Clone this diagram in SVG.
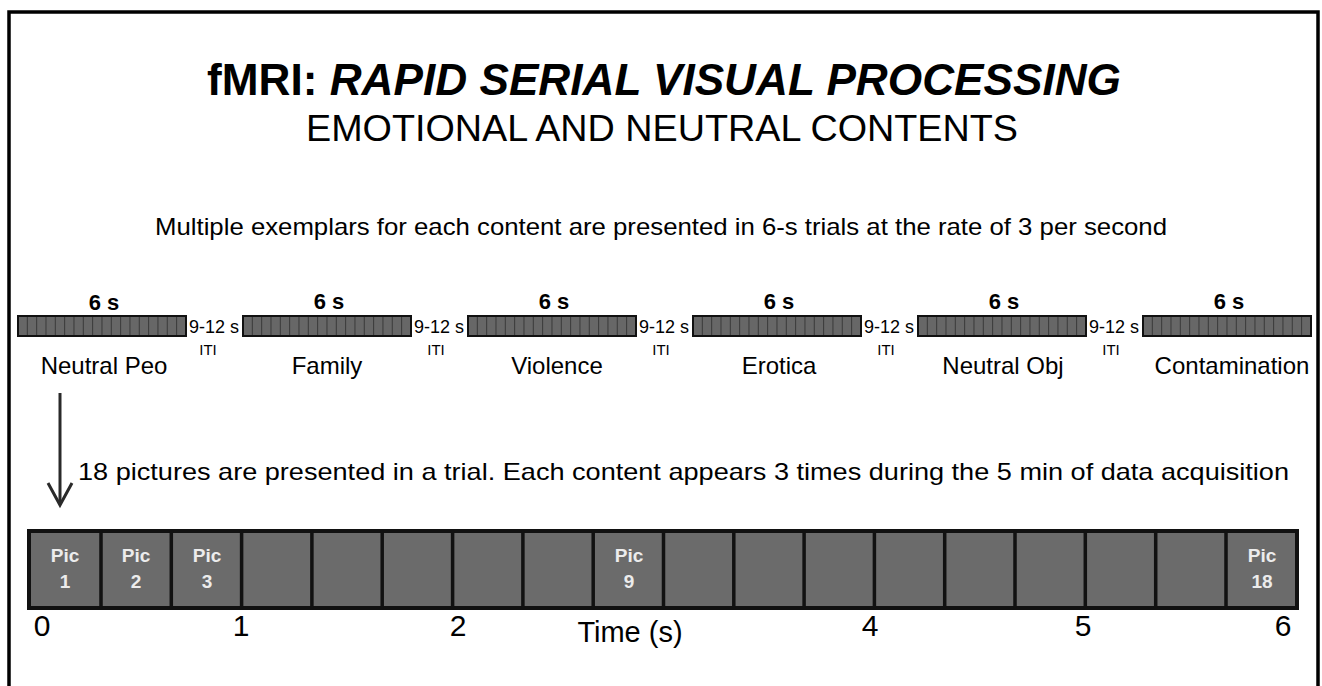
<svg xmlns="http://www.w3.org/2000/svg" width="1322" height="686" viewBox="0 0 1322 686">
<style>
text{font-family:"Liberation Sans",Arial,sans-serif;fill:#000}
.t6{font-size:22px;font-weight:bold;text-anchor:middle}
.iti1{font-size:18px}
.iti2{font-size:15px;text-anchor:middle}
.cat{font-size:24px;text-anchor:middle}
.bar{fill:#676767;stroke:#111;stroke-width:2}
.div{stroke:#3a3a3a;stroke-width:1;fill:none}
.pic{font-size:19px;font-weight:bold;fill:#ececec;text-anchor:middle}
.ax{font-size:30px;text-anchor:middle}
</style>
<rect x="9" y="12" width="1309" height="700" fill="#fff" stroke="#000" stroke-width="3.5"/>
<g id="title">
<text x="664" y="95" font-size="44" font-weight="bold" text-anchor="middle" textLength="914" lengthAdjust="spacingAndGlyphs">fMRI: <tspan font-style="italic">RAPID SERIAL VISUAL PROCESSING</tspan></text>
<text x="662" y="141" font-size="36" text-anchor="middle" textLength="712" lengthAdjust="spacingAndGlyphs">EMOTIONAL AND NEUTRAL CONTENTS</text>
<text x="661" y="235" font-size="24" text-anchor="middle" textLength="1012" lengthAdjust="spacingAndGlyphs">Multiple exemplars for each content are presented in 6-s trials at the rate of 3 per second</text>
</g>
<g id="trial1">
<rect class="bar" x="18" y="316" width="168" height="20"/>
<path class="div" d="M27.33,317v18m9.33,-18v18m9.33,-18v18m9.33,-18v18m9.33,-18v18m9.33,-18v18m9.33,-18v18m9.33,-18v18m9.33,-18v18m9.33,-18v18m9.33,-18v18m9.33,-18v18m9.33,-18v18m9.33,-18v18m9.33,-18v18m9.33,-18v18m9.33,-18v18"/>
<text class="t6" x="104" y="310">6 s</text>
<text class="cat" x="104" y="374">Neutral Peo</text>
</g>
<g id="trial2">
<rect class="bar" x="243" y="316" width="168" height="20"/>
<path class="div" d="M252.33,317v18m9.33,-18v18m9.33,-18v18m9.33,-18v18m9.33,-18v18m9.33,-18v18m9.33,-18v18m9.33,-18v18m9.33,-18v18m9.33,-18v18m9.33,-18v18m9.33,-18v18m9.33,-18v18m9.33,-18v18m9.33,-18v18m9.33,-18v18m9.33,-18v18"/>
<text class="t6" x="329" y="309">6 s</text>
<text class="cat" x="327" y="374">Family</text>
</g>
<g id="trial3">
<rect class="bar" x="468" y="316" width="168" height="20"/>
<path class="div" d="M477.33,317v18m9.33,-18v18m9.33,-18v18m9.33,-18v18m9.33,-18v18m9.33,-18v18m9.33,-18v18m9.33,-18v18m9.33,-18v18m9.33,-18v18m9.33,-18v18m9.33,-18v18m9.33,-18v18m9.33,-18v18m9.33,-18v18m9.33,-18v18m9.33,-18v18"/>
<text class="t6" x="554" y="309">6 s</text>
<text class="cat" x="557" y="374">Violence</text>
</g>
<g id="trial4">
<rect class="bar" x="693" y="316" width="168" height="20"/>
<path class="div" d="M702.33,317v18m9.33,-18v18m9.33,-18v18m9.33,-18v18m9.33,-18v18m9.33,-18v18m9.33,-18v18m9.33,-18v18m9.33,-18v18m9.33,-18v18m9.33,-18v18m9.33,-18v18m9.33,-18v18m9.33,-18v18m9.33,-18v18m9.33,-18v18m9.33,-18v18"/>
<text class="t6" x="779" y="309">6 s</text>
<text class="cat" x="779" y="374">Erotica</text>
</g>
<g id="trial5">
<rect class="bar" x="918" y="316" width="168" height="20"/>
<path class="div" d="M927.33,317v18m9.33,-18v18m9.33,-18v18m9.33,-18v18m9.33,-18v18m9.33,-18v18m9.33,-18v18m9.33,-18v18m9.33,-18v18m9.33,-18v18m9.33,-18v18m9.33,-18v18m9.33,-18v18m9.33,-18v18m9.33,-18v18m9.33,-18v18m9.33,-18v18"/>
<text class="t6" x="1004" y="309">6 s</text>
<text class="cat" x="1003" y="374">Neutral Obj</text>
</g>
<g id="trial6">
<rect class="bar" x="1143" y="316" width="168" height="20"/>
<path class="div" d="M1152.33,317v18m9.33,-18v18m9.33,-18v18m9.33,-18v18m9.33,-18v18m9.33,-18v18m9.33,-18v18m9.33,-18v18m9.33,-18v18m9.33,-18v18m9.33,-18v18m9.33,-18v18m9.33,-18v18m9.33,-18v18m9.33,-18v18m9.33,-18v18m9.33,-18v18"/>
<text class="t6" x="1229" y="309">6 s</text>
<text class="cat" x="1232" y="374">Contamination</text>
</g>
<g id="iti">
<text class="iti1" x="189" y="333">9-12 s</text><text class="iti2" x="208" y="355">ITI</text>
<text class="iti1" x="414" y="333">9-12 s</text><text class="iti2" x="436" y="355">ITI</text>
<text class="iti1" x="639" y="333">9-12 s</text><text class="iti2" x="661" y="355">ITI</text>
<text class="iti1" x="864" y="333">9-12 s</text><text class="iti2" x="886" y="355">ITI</text>
<text class="iti1" x="1089" y="333">9-12 s</text><text class="iti2" x="1111" y="355">ITI</text>
</g>
<g id="connectors">
<line x1="60" y1="393" x2="60" y2="504" stroke="#2a2a2a" stroke-width="3"/>
<path d="M48,483 L60,505 L72,483" fill="none" stroke="#2a2a2a" stroke-width="3" stroke-linejoin="miter"/>
</g>
<g id="note">
<text x="78" y="480" font-size="24" textLength="1211" lengthAdjust="spacingAndGlyphs">18 pictures are presented in a trial. Each content appears 3 times during the 5 min of data acquisition</text>
</g>
<g id="strip">
<rect x="29" y="531" width="1268" height="77" fill="#6b6b6b" stroke="#111" stroke-width="4"/>
<path d="M101,531v77M171.3,531v77M241.6,531v77M311.9,531v77M382.2,531v77M452.6,531v77M522.9,531v77M593.2,531v77M663.5,531v77M733.8,531v77M804.1,531v77M874.4,531v77M944.7,531v77M1015,531v77M1085.3,531v77M1155.7,531v77M1226,531v77" stroke="#111" stroke-width="3.5" fill="none"/>
<text class="pic" x="65" y="562">Pic</text><text class="pic" x="65" y="588">1</text>
<text class="pic" x="136" y="562">Pic</text><text class="pic" x="136" y="588">2</text>
<text class="pic" x="207" y="562">Pic</text><text class="pic" x="207" y="588">3</text>
<text class="pic" x="629" y="562">Pic</text><text class="pic" x="629" y="588">9</text>
<text class="pic" x="1262" y="562">Pic</text><text class="pic" x="1262" y="588">18</text>
</g>
<g id="axis">
<text class="ax" x="42" y="636">0</text>
<text class="ax" x="241" y="636">1</text>
<text class="ax" x="458" y="636">2</text>
<text class="ax" x="870" y="636">4</text>
<text class="ax" x="1083" y="636">5</text>
<text class="ax" x="1283" y="636">6</text>
<text x="630" y="642" font-size="29" text-anchor="middle">Time (s)</text>
</g>
</svg>
